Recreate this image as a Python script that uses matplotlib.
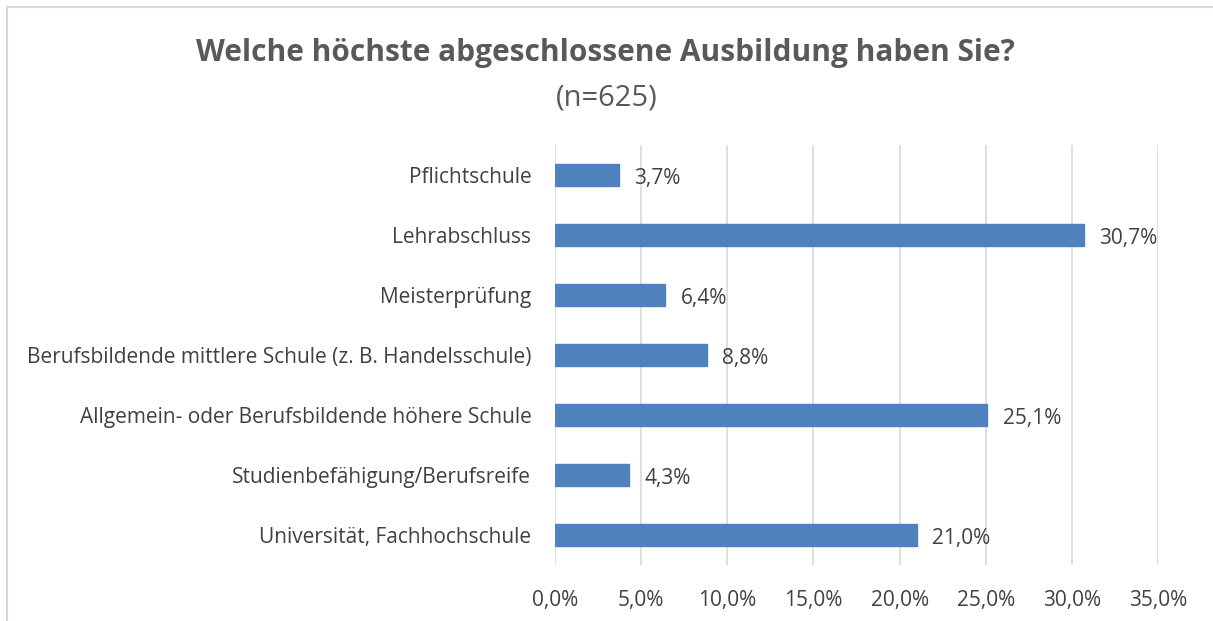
import numpy as np
import matplotlib.pyplot as plt
from matplotlib.patches import Rectangle
from matplotlib.ticker import FuncFormatter

kategorien = ['Pflichtschule',
              'Lehrabschluss',
              'Meisterprüfung',
              'Berufsbildende mittlere Schule (z. B. Handelsschule)',
              'Allgemein- oder Berufsbildende höhere Schule',
              'Studienbefähigung/Berufsreife',
              'Universität, Fachhochschule']
anteile = [3.7, 30.7, 6.4, 8.8, 25.1, 4.3, 21.0]
x_ticks = [0, 5, 10, 15, 20, 25, 30, 35]

plt.rcParams['font.family'] = ['Open Sans', 'DejaVu Sans']

fig = plt.figure(figsize=(12.13, 6.21), dpi=100)
ax = fig.add_axes([555 / 1213, 1 - 565 / 621, (1158 - 555) / 1213, (565 - 145) / 621])

# Rahmen wie im Excel-Diagramm
fig.patches.append(Rectangle((7 / 1213, -0.1), 1.2, 1 - 7 / 621 + 0.1,
                             transform=fig.transFigure, fill=False,
                             edgecolor='#d9d9d9', linewidth=1.5))

y = np.arange(len(kategorien))
ax.barh(y, anteile, height=0.37, color='#4f81bd', edgecolor='#4f81bd', zorder=3)

for yi, v in zip(y, anteile):
    ax.text(v + 0.9, yi + 0.05, f'{v:.1f}%'.replace('.', ','), va='center', ha='left',
            fontsize=15, color='#404040')

ax.set_ylim(len(kategorien) - 0.5, -0.5)
ax.set_xlim(0, 35)
ax.set_xticks(x_ticks)
ax.xaxis.set_major_formatter(FuncFormatter(lambda v, p: f'{v:.1f}%'.replace('.', ',')))
ax.set_yticks(y)
ax.set_yticklabels(kategorien)
ax.grid(axis='x', color='#d9d9d9', linewidth=1.2, zorder=0)
for s in ax.spines.values():
    s.set_visible(False)
ax.tick_params(axis='both', length=0, labelsize=15, colors='#404040')
ax.tick_params(axis='y', pad=17)
ax.tick_params(axis='x', pad=18)

fig.text(605 / 1213, 1 - 53 / 621, 'Welche höchste abgeschlossene Ausbildung haben Sie?',
         ha='center', va='center', fontsize=21.5, fontweight='bold', color='#595959')
fig.text(607 / 1213, 1 - 98 / 621, '(n=625)', ha='center', va='center',
         fontsize=21, color='#595959')

fig.savefig('out.png', dpi=100)
